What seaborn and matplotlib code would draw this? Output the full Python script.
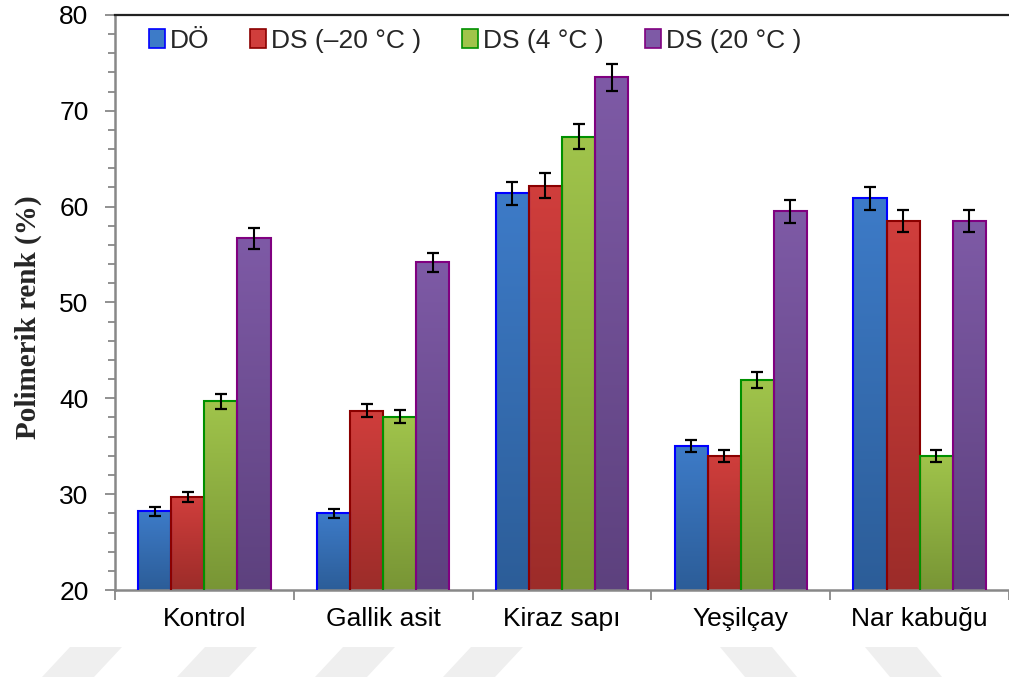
import numpy as np
import pandas as pd
import matplotlib
matplotlib.use("Agg")
import matplotlib.pyplot as plt
import seaborn as sns
from matplotlib.colors import LinearSegmentedColormap
from matplotlib.ticker import MultipleLocator
from matplotlib.patches import Polygon

categories = ["Kontrol", "Gallik asit", "Kiraz sapı", "Yeşilçay", "Nar kabuğu"]
series = ["DÖ", "DS (–20 °C )", "DS (4 °C )", "DS (20 °C )"]
val_do = [28.2, 28.0, 61.4, 35.0, 60.9]
val_m20 = [29.7, 38.7, 62.2, 34.0, 58.5]
val_4 = [39.7, 38.1, 67.3, 41.9, 34.0]
val_20 = [56.7, 54.2, 73.5, 59.5, 58.5]
err_do = [0.5, 0.5, 1.2, 0.6, 1.2]
err_m20 = [0.5, 0.7, 1.3, 0.6, 1.1]
err_4 = [0.8, 0.7, 1.3, 0.8, 0.6]
err_20 = [1.1, 1.0, 1.4, 1.2, 1.1]
y_label = "Polimerik renk (%)"

values = [val_do, val_m20, val_4, val_20]
errors = [err_do, err_m20, err_4, err_20]

rows = []
for s, vals in zip(series, values):
    for c, v in zip(categories, vals):
        rows.append({"cat": c, "series": s, "val": v})
df = pd.DataFrame(rows)

tops = ["#3d7bc8", "#d03e3c", "#a0c44b", "#7e5aa6"]
bottoms = ["#2c5d98", "#9c2c29", "#789535", "#5d417e"]
edges = ["#0000ff", "#8b0000", "#009000", "#800080"]

sns.set_theme(style="white")
plt.rcParams["font.family"] = ["Liberation Sans", "DejaVu Sans"]

W, H = 1009, 679
fig = plt.figure(figsize=(W / 100, H / 100), dpi=100)
ax = fig.add_axes([115 / W, 1 - 590 / H, 1 - 115 / W, 575 / H])

# faint background watermark shapes (decoration)
wm_slash = [42, 177, 315, 443]
wm_back = [720, 865]
for x in wm_slash:
    pts = [(x, 677), (x + 52, 677), (x + 80, 647), (x + 28, 647)]
    fig.patches.append(Polygon([(px / W, 1 - py / H) for px, py in pts], closed=True,
                               transform=fig.transFigure, facecolor="#efefef",
                               edgecolor="none", zorder=0))
for x in wm_back:
    pts = [(x, 647), (x + 52, 647), (x + 77, 677), (x + 25, 677)]
    fig.patches.append(Polygon([(px / W, 1 - py / H) for px, py in pts], closed=True,
                               transform=fig.transFigure, facecolor="#efefef",
                               edgecolor="none", zorder=0))

sns.barplot(data=df, x="cat", y="val", hue="series", order=categories,
            hue_order=series, palette=tops, width=0.74, errorbar=None,
            ax=ax, legend=True, saturation=1)

ax.set_ylim(20, 80)
ax.set_xlim(-0.5, len(categories) - 0.5)

bar_conts = list(ax.containers)
for i, cont in enumerate(bar_conts):
    cmap = LinearSegmentedColormap.from_list(f"g{i}", [bottoms[i], tops[i]])
    grad = np.linspace(0, 1, 256).reshape(-1, 1)
    xs, ys = [], []
    for bar in cont.patches:
        x0, y0 = bar.get_x(), bar.get_y()
        w, h = bar.get_width(), bar.get_height()
        bar.set_facecolor("none")
        bar.set_edgecolor(edges[i])
        bar.set_linewidth(1.5)
        bar.set_zorder(3)
        im = ax.imshow(grad, extent=[x0, x0 + w, 20, y0 + h], origin="lower",
                       cmap=cmap, aspect="auto", zorder=2, interpolation="bilinear")
        im.set_clip_path(bar)
        xs.append(x0 + w / 2)
        ys.append(y0 + h)
    ax.errorbar(xs, ys, yerr=errors[i], fmt="none", ecolor="black",
                elinewidth=1.5, capsize=4.5, capthick=1.6, zorder=4)

ax.set_aspect("auto")
ax.set_xlim(-0.5, len(categories) - 0.5)
ax.set_ylim(20, 80)

# axes styling
ax.set_xlabel("")
ax.set_ylabel(y_label, fontsize=21, fontweight="bold",
              family=["Liberation Serif", "DejaVu Serif"])
ax.yaxis.set_label_coords(-0.082, 0.475)
ax.set_xticks(np.arange(-0.5, len(categories)))
ax.set_xticklabels([])
ax.set_xticks(np.arange(len(categories)), minor=True)
ax.set_xticklabels(categories, minor=True, fontsize=19)
ax.tick_params(axis="x", which="major", length=7, width=1.3, color="#888888", direction="out", bottom=True)
ax.tick_params(axis="x", which="minor", length=0, pad=12)
ax.yaxis.set_major_locator(MultipleLocator(10))
ax.yaxis.set_minor_locator(MultipleLocator(2))
ax.tick_params(axis="y", which="major", length=7, width=1.3, color="#888888", labelsize=19,
               left=True, direction="out", pad=12)
ax.tick_params(axis="y", which="minor", length=5, width=1.3, color="#888888", left=True, direction="out")
for lab in ax.get_yticklabels() + ax.get_xticklabels(minor=True):
    lab.set_color("black")

ax.spines["left"].set_color("#888888")
ax.spines["bottom"].set_color("#888888")
ax.spines["left"].set_linewidth(1.8)
ax.spines["bottom"].set_linewidth(1.8)
ax.spines["top"].set_color("#222222")
ax.spines["top"].set_linewidth(1.6)
ax.spines["right"].set_visible(False)

# legend
handles, labels = ax.get_legend_handles_labels()
for h, t, e in zip(handles, tops, edges):
    h.set_facecolor(t)
    h.set_edgecolor(e)
    h.set_linewidth(1.2)
leg = ax.legend(handles, labels, loc="upper left", bbox_to_anchor=(0.017, 1.008), ncol=4,
                frameon=False, fontsize=19, handlelength=0.6, handleheight=0.75,
                handletextpad=0.2, columnspacing=1.55, borderaxespad=0.3)

fig.savefig("out.png", dpi=100)
